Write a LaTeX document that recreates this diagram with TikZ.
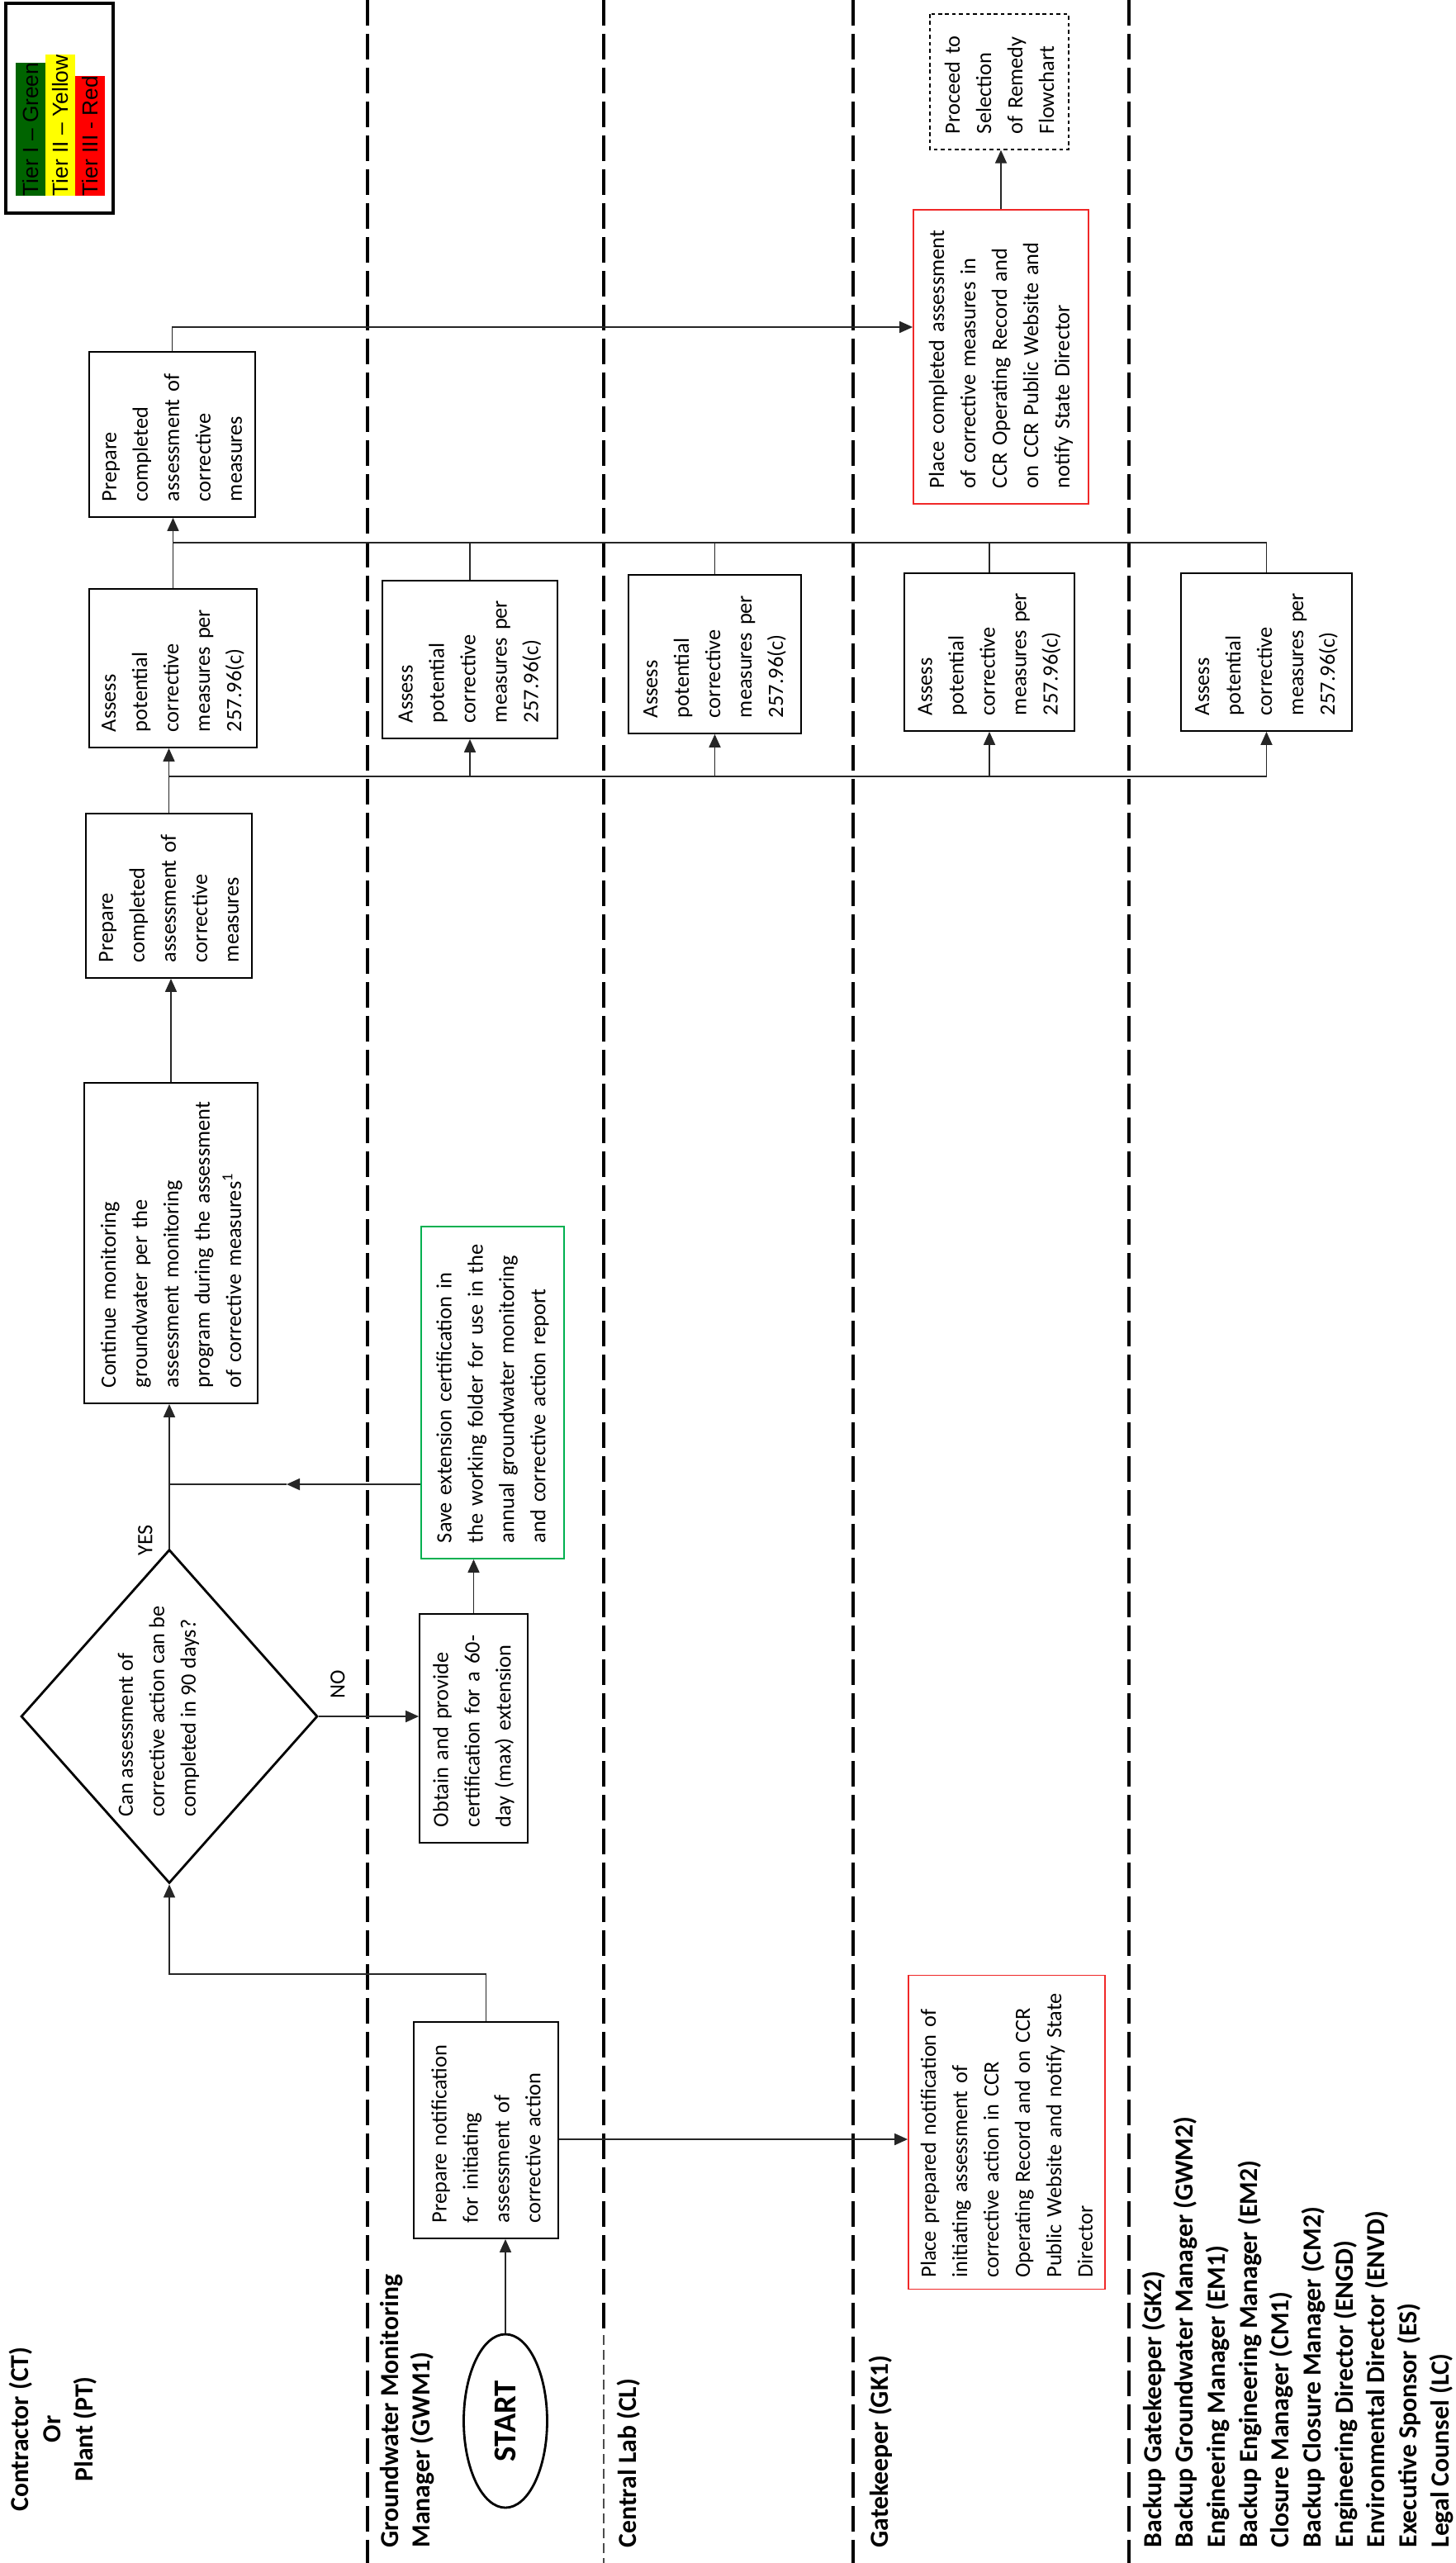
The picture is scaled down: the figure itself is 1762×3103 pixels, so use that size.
\documentclass[tikz,border=0pt]{standalone}
\usepackage{fontspec}
\setmainfont{Carlito}
\newfontfamily\legendfont{Liberation Sans}
\usetikzlibrary{shapes.geometric,arrows.meta}

\definecolor{tiergreen}{RGB}{0,100,0}
\definecolor{tieryellow}{RGB}{255,255,0}
\definecolor{tierred}{RGB}{255,0,0}
\definecolor{boxgreen}{RGB}{0,176,80}
\definecolor{boxred}{RGB}{240,40,40}

\newcommand{\boxfont}{\fontsize{7.5}{10.8}\selectfont}
\newcommand{\lanefont}{\fontsize{9}{11}\selectfont\bfseries}

\tikzset{
	task/.style={draw, rotate=90, align=left, font=\boxfont, inner xsep=1.9mm, inner ysep=0pt, line width=0.5pt},
	tierbar/.style={rotate=90, anchor=north west, inner sep=0pt, minimum height=3.6mm, font=\legendfont\fontsize{7.5}{9}\selectfont},
	legendframe/.style={line width=1.1pt},
	lane/.style={line width=1pt, dash pattern=on 3.1mm off 1mm},
	lanethin/.style={line width=0.4pt, black!70, dash pattern=on 1.2mm off 0.6mm},
	lanelabel/.style={rotate=90, anchor=west, align=left, inner sep=0pt, font=\lanefont},
	decision/.style={diamond, draw, rotate=90, inner sep=0pt, line width=0.8pt},
	startnode/.style={ellipse, draw, rotate=90, inner sep=0pt, line width=0.8pt, font=\fontsize{11}{13}\selectfont\bfseries},
	flow/.style={line width=0.5pt, black!85},
	note/.style={rotate=90, font=\boxfont, inner sep=0pt},
}

\begin{document}
\begin{tikzpicture}[x=0.1mm, y=-0.1mm, >={Triangle[length=1.6mm,width=1.4mm]}]
	\useasboundingbox (0,0) rectangle (1762,3103);

	% legend
	\draw [legendframe] (7,4) rectangle (137,258);
	\node [tierbar, fill=tiergreen] (tier1) at (18,238) {Tier I \textendash{} Green};
	\node [tierbar, fill=tieryellow] (tier2) at (54,238) {Tier II \textendash{} Yellow};
	\node [tierbar, fill=tierred] (tier3) at (90,238) {Tier III - Red};

	% swim lanes
	\draw [lane] (445,0) -- (445,3103);
	\draw [lane] (731,0) -- (731,2827);
	\draw [lanethin] (731,2827) -- (731,3103);
	\draw [lane] (1033,0) -- (1033,3103);
	\draw [lane] (1367,0) -- (1367,3103);

	\node [lanelabel, align=center, anchor=center] (laneCT) at (64,2941) {Contractor (CT)\\Or\\Plant (PT)};
	\node [lanelabel] (laneGWM) at (493,3085) {Groundwater Monitoring\\Manager (GWM1)};
	\node [lanelabel] (laneCL) at (761,3085) {Central Lab (CL)};
	\node [lanelabel] (laneGK) at (1066,3085) {Gatekeeper (GK1)};
	\node [lanelabel] (laneBK) at (1571,3085) {Backup Gatekeeper (GK2)\\Backup Groundwater Manager (GWM2)\\Engineering Manager (EM1)\\Backup Engineering Manager (EM2)\\Closure Manager (CM1)\\Backup Closure Manager (CM2)\\Engineering Director (ENGD)\\Environmental Director (ENVD)\\Executive Sponsor (ES)\\Legal Counsel (LC)};

	% steps
	\node [startnode, minimum width=21mm, minimum height=10.1mm] (start) at (612,2931) {START};

	\node [task, text width=22.4mm, minimum height=17.5mm] (notifGWM) at (588.5,2579) {Prepare notification\\for initiating\\assessment of\\corrective action};
	\node [task, draw=boxred, inner xsep=1.4mm, text width=35.2mm, minimum height=23.8mm] (notifGK) at (1219,2581.5) {Place prepared notification of\\initiating assessment of\\corrective action in CCR\\Operating Record and on CCR\\Public Website and notify State\\Director};

	\node [decision, minimum width=40.4mm, minimum height=35.9mm] (decide) at (205,2078) {};
	\node [note, align=left] (decideText) at (192,2072) {Can assessment of\\corrective action can be\\completed in 90 days?};
	\node [note] (yesLbl) at (176,1865) {YES};
	\node [note] (noLbl) at (409,2039) {NO};

	\node [task, text width=23.9mm, minimum height=13.1mm] (obtain) at (573.5,2092.5) {Obtain and provide\\certification for a 60-\\day (max) extension};
	\node [task, draw=boxgreen, text width=36.4mm, minimum height=17.3mm] (save) at (596.5,1686) {Save extension certification in\\the working folder for use in the\\annual groundwater monitoring\\and corrective action report};

	\node [task, text width=35mm, minimum height=21mm] (continue) at (207,1505) {Continue monitoring\\groundwater per the\\assessment monitoring\\program during the assessment\\of corrective measures\textsuperscript{1}};
	\node [task, text width=16.1mm, minimum height=20.1mm] (prepDone1) at (204.5,1084.5) {Prepare\\completed\\assessment of\\corrective\\measures};

	\node [task, text width=15.4mm, minimum height=20.3mm] (assessCT) at (209.5,809) {Assess\\potential\\corrective\\measures per\\257.96(c)};
	\node [task, text width=15.3mm, minimum height=21.2mm] (assessGWM) at (569,798.5) {Assess\\potential\\corrective\\measures per\\257.96(c)};
	\node [task, text width=15.4mm, minimum height=20.9mm] (assessCL) at (865.5,792) {Assess\\potential\\corrective\\measures per\\257.96(c)};
	\node [task, text width=15.3mm, minimum height=20.6mm] (assessGK) at (1198,789.5) {Assess\\potential\\corrective\\measures per\\257.96(c)};
	\node [task, text width=15.3mm, minimum height=20.7mm] (assessBK) at (1533.5,789.5) {Assess\\potential\\corrective\\measures per\\257.96(c)};

	\node [task, text width=16.2mm, minimum height=20.1mm] (prepDone2) at (208.5,526) {Prepare\\completed\\assessment of\\corrective\\measures};
	\node [task, draw=boxred, text width=31.8mm, minimum height=21.2mm] (placeGK) at (1212,432) {Place completed assessment\\of corrective measures in\\CCR Operating Record and\\on CCR Public Website and\\notify State Director};
	\node [task, line width=0.4pt, dash pattern=on 1.3pt off 1.1pt, text width=12.6mm, minimum height=16.8mm] (proceed) at (1210,99) {Proceed to\\Selection\\of Remedy\\Flowchart};

	% connectors
	\coordinate (notifRow) at (0,2590);
	\coordinate (mergeTip) at (347,1797);
	\coordinate (forkRow) at (0,940);
	\coordinate (joinRow) at (0,657);
	\coordinate (placeRow) at (0,396);

	\path [flow, ->] (start.east) edge (start.east |- notifGWM.west);
	\path [flow, ->] (notifGWM.south |- notifRow) edge (notifGK.north |- notifRow);
	\draw [flow, ->] (notifGWM.east) -- ++(0,-57) -| (decide.west);

	\path [flow, ->] (decide.south) edge (decide.south -| obtain.north);
	\path [flow, ->] (obtain.east) edge (obtain.east |- save.west);
	\path [flow, ->] (save.north |- mergeTip) edge (mergeTip);
	\draw [flow] (mergeTip) -- (decide.east |- mergeTip);
	\path [flow, ->] (decide.east) edge (decide.east |- continue.west);

	\path [flow, ->] (continue.east) edge (continue.east |- prepDone1.west);
	\path [flow, ->] (prepDone1.east) edge (prepDone1.east |- assessCT.west);

	\draw [flow] (prepDone1.east |- forkRow) -- (assessBK.west |- forkRow);
	\path [flow, ->] (assessGWM.west |- forkRow) edge (assessGWM.west);
	\path [flow, ->] (assessCL.west |- forkRow) edge (assessCL.west);
	\path [flow, ->] (assessGK.west |- forkRow) edge (assessGK.west);
	\path [flow, ->] (assessBK.west |- forkRow) edge (assessBK.west);

	\draw [flow] (assessCT.east |- joinRow) -- (assessBK.east |- joinRow);
	\draw [flow] (assessGWM.east) -- (assessGWM.east |- joinRow);
	\draw [flow] (assessCL.east) -- (assessCL.east |- joinRow);
	\draw [flow] (assessGK.east) -- (assessGK.east |- joinRow);
	\draw [flow] (assessBK.east) -- (assessBK.east |- joinRow);
	\path [flow, ->] (assessCT.east) edge (assessCT.east |- prepDone2.west);

	\draw [flow, ->] (prepDone2.east) |- (placeGK.north |- placeRow);
	\path [flow, ->] (placeGK.east) edge (placeGK.east |- proceed.west);

\end{tikzpicture}
\end{document}
